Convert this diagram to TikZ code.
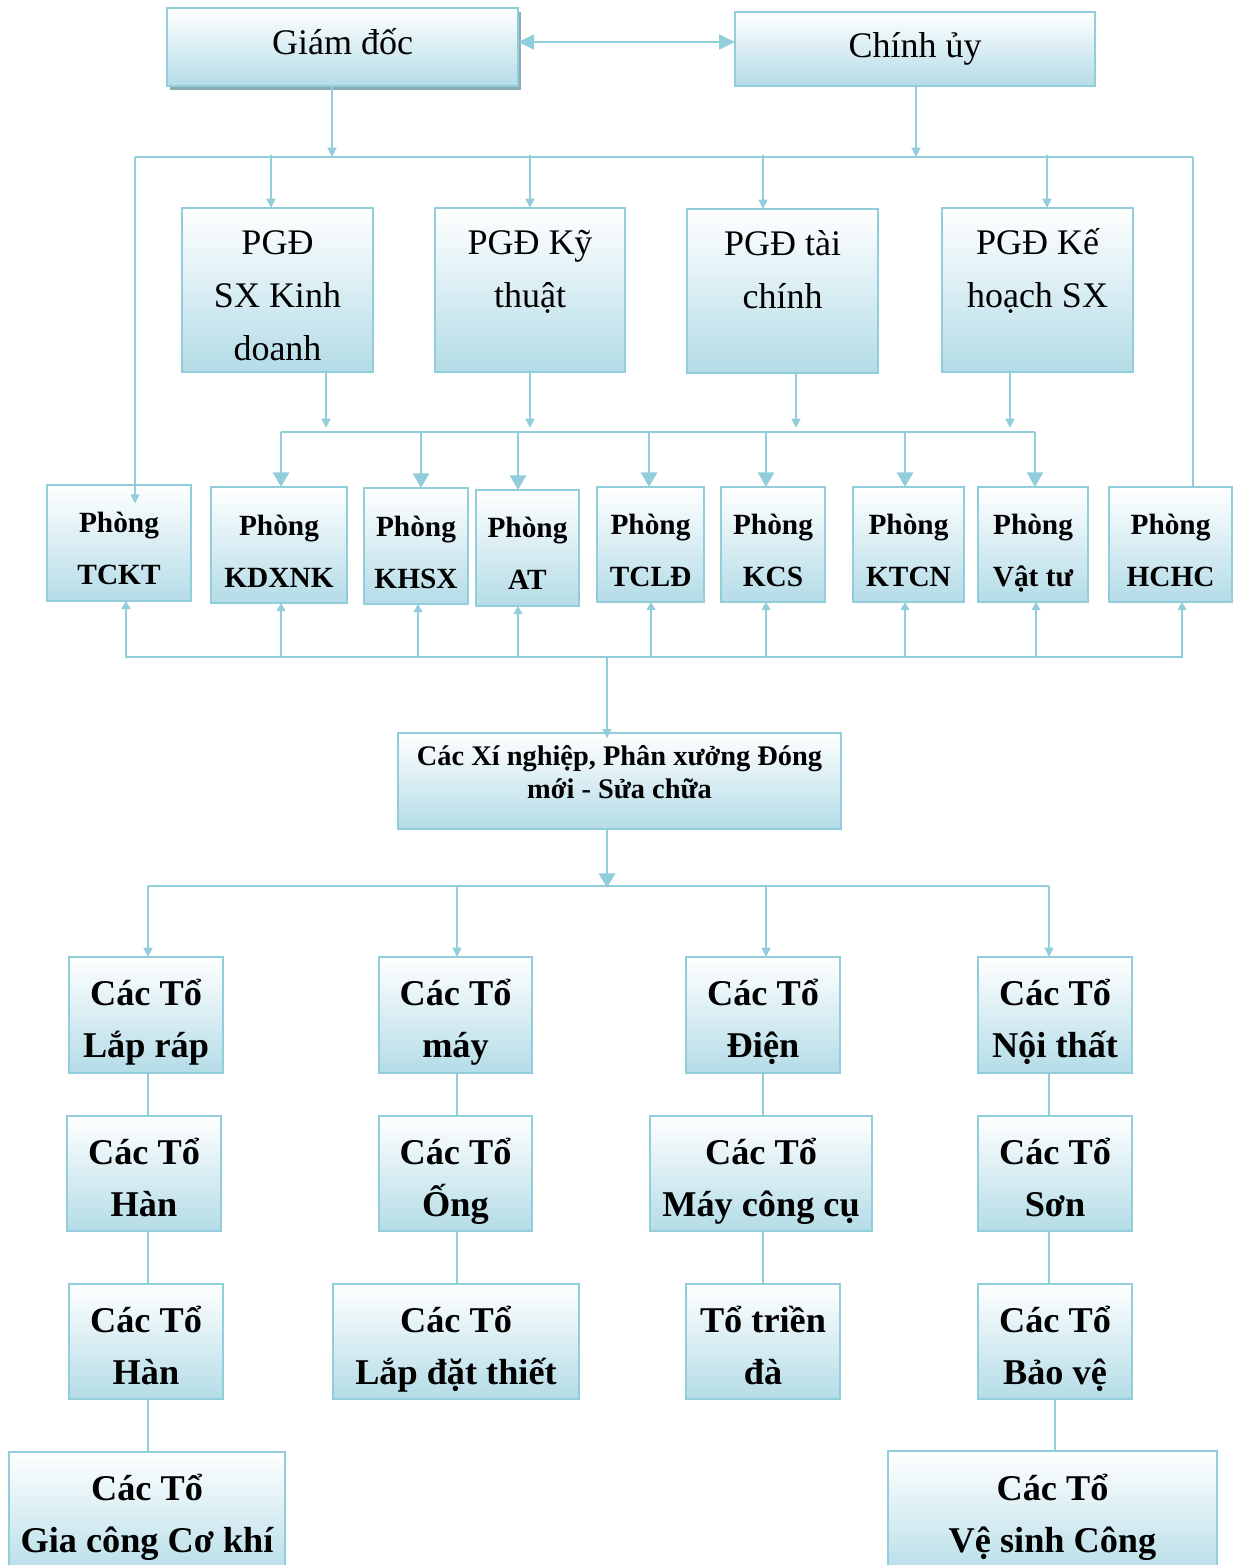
\documentclass[tikz,border=0pt]{standalone}
\usepackage{fontspec}
\setmainfont{Liberation Serif}
\usetikzlibrary{arrows.meta,shadows}

\definecolor{boxline}{HTML}{92CDDC}
\definecolor{boxfill}{HTML}{B4DCE7}
\definecolor{shadowc}{HTML}{8DA9B4}

% centred lines, baseline = first line
\newcommand\stack[1]{\begin{tabular}[t]{@{}c@{}}#1\end{tabular}}
% #1 box style, #2 font style, #3 name, #4-#7 corners (x1,y1,x2,y2), #8 first baseline, #9 text
\newcommand\orgbox[9]{%
  \node[#1, minimum width={(#6-#4)*0.75pt}, minimum height={(#7-#5)*0.75pt}] (#3) at ({(#4+#6)/2},{(#5+#7)/2}) {};
  \node[#2, anchor=base, inner sep=0pt] (#3-t) at ({(#4+#6)/2},#8) {\stack{#9}};
}

\begin{document}
\begin{tikzpicture}[x=0.75pt,y=-0.75pt,
  box/.style={draw=boxline, line width=2.2pt, top color=white, bottom color=boxfill, inner sep=0pt, outer sep=0pt},
  shadowbox/.style={box, drop shadow={shadow xshift=2.25pt, shadow yshift=-3pt, fill=shadowc, opacity=1}},
  conn/.style={draw=boxline, line width=2.2pt},
  tipS/.style={-{Triangle[length=7pt,width=6.5pt]}},
  tipM/.style={-{Triangle[length=11pt,width=12pt]}},
  tipU/.style={-{Triangle[length=6pt,width=6.5pt]}},
  tipD/.style={{Triangle[length=12pt,width=11pt]}-{Triangle[length=12pt,width=11pt]}},
  fHead/.style={font=\fontsize{27}{39}\selectfont},
  fPGD/.style={font=\fontsize{27}{39.4}\selectfont},
  fRoom/.style={font=\bfseries\fontsize{22}{39}\selectfont},
  fXN/.style={font=\bfseries\fontsize{21.3}{24.75}\selectfont},
  fTeam/.style={font=\bfseries\fontsize{27.2}{39}\selectfont}]

\clip (0,0) rectangle (1241,1565);

% management
\orgbox{shadowbox}{fHead}{gd}{167}{8}{518}{86}{55}{Giám đốc}
\orgbox{box}{fHead}{cu}{735}{12}{1095}{86}{58}{Chính ủy}

% deputy directors
\orgbox{box}{fPGD}{pgd1}{182}{208}{373}{372}{255}{PGĐ\\SX Kinh\\doanh}
\orgbox{box}{fPGD}{pgd2}{435}{208}{625}{372}{255}{PGĐ Kỹ\\thuật}
\orgbox{box}{fPGD}{pgd3}{687}{209}{878}{373}{256}{PGĐ tài\\chính}
\orgbox{box}{fPGD}{pgd4}{942}{208}{1133}{372}{255}{PGĐ Kế\\hoạch SX}

% departments
\orgbox{box}{fRoom}{ptckt}{47}{485}{191}{601}{532}{Phòng\\TCKT}
\orgbox{box}{fRoom}{pkdxnk}{211}{487}{347}{603}{535}{Phòng\\KDXNK}
\orgbox{box}{fRoom}{pkhsx}{364}{488}{468}{604}{536}{Phòng\\KHSX}
\orgbox{box}{fRoom}{pat}{476}{490}{579}{606}{537}{Phòng\\AT}
\orgbox{box}{fRoom}{ptcld}{597}{487}{704}{602}{534}{Phòng\\TCLĐ}
\orgbox{box}{fRoom}{pkcs}{721}{487}{825}{602}{534}{Phòng\\KCS}
\orgbox{box}{fRoom}{pktcn}{853}{487}{964}{602}{534}{Phòng\\KTCN}
\orgbox{box}{fRoom}{pvattu}{978}{487}{1088}{602}{534}{Phòng\\Vật tư}
\orgbox{box}{fRoom}{phchc}{1109}{487}{1232}{602}{534}{Phòng\\HCHC}

% workshops
\orgbox{box}{fXN}{xn}{398}{733}{841}{829}{765}{Các Xí nghiệp, Phân xưởng Đóng\\mới - Sửa chữa}

% teams
\orgbox{box}{fTeam}{c1a}{69}{957}{223}{1073}{1005}{Các Tổ\\Lắp ráp}
\orgbox{box}{fTeam}{c1b}{67}{1116}{221}{1231}{1164}{Các Tổ\\Hàn}
\orgbox{box}{fTeam}{c1c}{69}{1284}{223}{1399}{1332}{Các Tổ\\Hàn}
\orgbox{box}{fTeam}{c1d}{9}{1452}{285}{1580}{1500}{Các Tổ\\Gia công Cơ khí}
\orgbox{box}{fTeam}{c2a}{379}{957}{532}{1073}{1005}{Các Tổ\\máy}
\orgbox{box}{fTeam}{c2b}{379}{1116}{532}{1231}{1164}{Các Tổ\\Ống}
\orgbox{box}{fTeam}{c2c}{333}{1284}{579}{1399}{1332}{Các Tổ\\Lắp đặt thiết}
\orgbox{box}{fTeam}{c3a}{686}{957}{840}{1073}{1005}{Các Tổ\\Điện}
\orgbox{box}{fTeam}{c3b}{650}{1116}{872}{1231}{1164}{Các Tổ\\Máy công cụ}
\orgbox{box}{fTeam}{c3c}{686}{1284}{840}{1399}{1332}{Tổ triền\\đà}
\orgbox{box}{fTeam}{c4a}{978}{957}{1132}{1073}{1005}{Các Tổ\\Nội thất}
\orgbox{box}{fTeam}{c4b}{978}{1116}{1132}{1231}{1164}{Các Tổ\\Sơn}
\orgbox{box}{fTeam}{c4c}{978}{1284}{1132}{1399}{1332}{Các Tổ\\Bảo vệ}
\orgbox{box}{fTeam}{c4d}{888}{1451}{1217}{1580}{1500}{Các Tổ\\Vệ sinh Công}

% director <-> political commissar
\draw[conn,tipD] ([yshift=3.75pt]gd.east) -- ([yshift=3.75pt]gd.east -| cu.west);

% upper bus
\coordinate (tL) at (135,157);
\coordinate (tR) at (1193,157);
\draw[conn] (tL) -- (tR);
\coordinate (gdj) at (332,157);
\coordinate (cuj) at (916,157);
\draw[conn,tipS] (gdj |- gd.south) -- (gdj);
\draw[conn,tipS] (cuj |- cu.south) -- (cuj);
\draw[conn,tipS] (tL) -- ([yshift=-14pt]ptckt.north -| tL);
\draw[conn] (tR) -- (phchc.north -| tR);
\foreach \n/\x in {pgd1/271,pgd2/530,pgd3/763,pgd4/1047}{
  \coordinate (j) at (\x,155);
  \draw[conn,tipS] (j) -- (j |- \n.north);
}

% middle bus
\foreach \n/\x in {pgd1/326,pgd2/530,pgd3/796,pgd4/1010}{
  \coordinate (j) at (\x,428);
  \draw[conn,tipS] (j |- \n.south) -- (j);
}
\coordinate (mL) at (281,432);
\coordinate (mR) at (1035,432);
\draw[conn] (mL) -- (mR);
\foreach \n/\x in {pkdxnk/281,pkhsx/421,pat/518,ptcld/649,pkcs/766,pktcn/905,pvattu/1035}{
  \coordinate (j) at (\x,432);
  \draw[conn,tipM] (j) -- (j |- \n.north);
}

% lower bus
\coordinate (lL) at (125,657);
\coordinate (lR) at (1183,657);
\draw[conn] (lL) -- (lR);
\foreach \n/\x in {ptckt/126,pkdxnk/281,pkhsx/418,pat/518,ptcld/651,pkcs/766,pktcn/905,pvattu/1036,phchc/1182}{
  \coordinate (j) at (\x,657);
  \draw[conn,tipU] (j) -- (j |- \n.south);
}
\coordinate (xj) at (607,657);
\draw[conn,tipS] (xj) -- ([yshift=-4pt]xn.north -| xj);

% team bus
\coordinate (xb) at (607,888);
\draw[conn,tipM] (xn.south -| xb) -- (xb);
\coordinate (bL) at (148,886);
\coordinate (bR) at (1049,886);
\draw[conn] (bL) -- (bR);
\foreach \n/\x in {c1a/148,c2a/457,c3a/766,c4a/1049}{
  \coordinate (j) at (\x,886);
  \draw[conn,tipS] (j) -- (j |- \n.north);
}

% team columns
\foreach \a/\b/\x in {c1a/c1b/148,c1b/c1c/148,c1c/c1d/148,c2a/c2b/457,c2b/c2c/457,
                      c3a/c3b/763,c3b/c3c/763,c4a/c4b/1049,c4b/c4c/1049,c4c/c4d/1055}{
  \coordinate (j) at (\x,0);
  \draw[conn] (j |- \a.south) -- (j |- \b.north);
}
\end{tikzpicture}
\end{document}
